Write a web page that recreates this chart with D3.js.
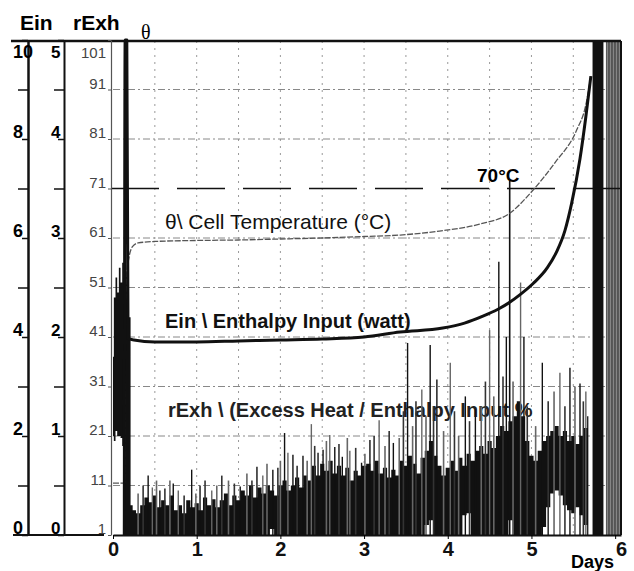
<!DOCTYPE html>
<html>
<head>
<meta charset="utf-8">
<script src="https://cdn.jsdelivr.net/npm/d3@7"></script>
<style>
  body { margin: 0; background: #fff; }
  svg { display: block; font-family: "Liberation Sans", Arial, sans-serif; }
</style>
</head>
<body>
<svg id="chart" width="634" height="571"></svg>
<script>
// ---- values ----
const dayTicks = [0, 1, 2, 3, 4, 5, 6];
const gridDays = [0.5, 1, 1.5, 2, 2.5, 3, 3.5, 4, 4.5, 5, 5.5];
const einTicks = [0, 2, 4, 6, 8, 10];
const einMinor = [1, 3, 5, 7, 9];
const rexhTicks = [0, 1, 2, 3, 4, 5];
const rexhMinor = [0.5, 1.5, 2.5, 3.5, 4.5];
const thetaTicks = [0, 10, 20, 30, 40, 50, 60, 70, 80, 90, 100];
const thetaTickLabels = ["1", "11", "21", "31", "41", "51", "61", "71", "81", "91", "101"];

// Ein, enthalpy input (W)
const einDays = [0.135, 0.145, 0.165, 0.18, 0.25, 0.5, 1.0, 1.5, 2.0, 2.5, 3.0, 3.43, 3.94, 4.2, 4.42, 4.6, 4.74, 4.86, 5.02, 5.19, 5.3, 5.4, 5.48, 5.58, 5.65, 5.71];
const einVals = [0, 10, 10, 3.97, 3.94, 3.9, 3.9, 3.92, 3.94, 3.96, 4.0, 4.1, 4.18, 4.28, 4.42, 4.56, 4.7, 4.85, 5.08, 5.4, 5.72, 6.15, 6.7, 7.6, 8.45, 9.27];

// theta, cell temperature (°C)
const thetaDays = [0.0, 0.14, 0.145, 0.16, 0.19, 0.23, 0.3, 0.5, 1.0, 1.5, 2.0, 2.5, 3.0, 3.43, 3.9, 4.38, 4.74, 5.02, 5.28, 5.54, 5.65, 5.71];
const thetaVals = [10.5, 10.5, 45, 52, 56, 58.2, 59.0, 59.3, 59.5, 59.6, 59.8, 60.0, 60.3, 60.6, 61.4, 62.8, 65, 69.7, 75.2, 81.8, 86.9, 92.7];

// rExh, excess heat / enthalpy input: top and bottom of the dark noisy trace
const rexhDays = [0.0, 0.02, 0.04, 0.06, 0.08, 0.1, 0.12, 0.14, 0.16, 0.18, 0.2, 0.22,
  0.25, 0.3, 0.35, 0.4, 0.45, 0.5, 0.55, 0.6, 0.65, 0.7, 0.75, 0.8, 0.85, 0.9, 0.95,
  1.0, 1.05, 1.1, 1.15, 1.2, 1.25, 1.3, 1.35, 1.4, 1.45, 1.5, 1.55, 1.6, 1.65, 1.7, 1.75, 1.8, 1.85, 1.9, 1.95,
  2.0, 2.05, 2.1, 2.15, 2.2, 2.25, 2.3, 2.35, 2.4, 2.45, 2.5, 2.55, 2.6, 2.65, 2.7, 2.75, 2.8, 2.85, 2.9, 2.95,
  3.0, 3.05, 3.1, 3.15, 3.2, 3.25, 3.3, 3.35, 3.4, 3.45, 3.5, 3.55, 3.6, 3.65, 3.7, 3.75, 3.8, 3.85, 3.9, 3.95,
  4.0, 4.05, 4.1, 4.15, 4.2, 4.25, 4.3, 4.35, 4.4, 4.45, 4.5, 4.55, 4.6, 4.65, 4.7, 4.75, 4.8, 4.85, 4.9, 4.95,
  5.0, 5.05, 5.1, 5.15, 5.2, 5.25, 5.3, 5.35, 5.4, 5.45, 5.5, 5.55, 5.6, 5.65, 5.68];
const rexhHi = [1.8, 2.4, 2.6, 2.45, 2.7, 2.55, 2.75, 2.6, 2.65, 2.4, 2.2, 0.3,
  0.25, 0.22, 0.3, 0.38, 0.33, 0.4, 0.28, 0.35, 0.3, 0.4, 0.25, 0.3, 0.22, 0.35, 0.28,
  0.32, 0.25, 0.38, 0.3, 0.36, 0.28, 0.35, 0.42, 0.3, 0.4, 0.35, 0.45, 0.4, 0.5, 0.38, 0.48, 0.42, 0.5, 0.45, 0.4,
  0.5, 0.55, 0.45, 0.5, 0.58, 0.48, 0.6, 0.55, 0.7, 0.6, 0.72, 0.65, 0.75, 0.62, 0.7, 0.6, 0.68, 0.55, 0.65, 0.6,
  0.7, 0.72, 0.65, 0.75, 0.62, 0.68, 0.58, 0.66, 0.6, 0.75, 0.7, 0.8, 0.72, 0.62, 0.78, 0.85, 0.95, 0.8, 0.7, 0.6,
  0.68, 0.75, 0.65, 0.78, 0.7, 0.82, 0.75, 0.85, 0.9, 0.82, 0.95, 0.88, 1.0, 1.1, 1.05, 1.15, 1.2, 1.35, 1.2, 0.95,
  0.8, 0.75, 0.85, 0.95, 1.0, 1.05, 1.1, 1.0, 1.05, 0.95, 1.0, 0.92, 1.0, 1.08, 1.2];
const rexhLo = [1.0, 0.95, 1.05, 1.0, 1.0, 0.98, 0.9, 0, 0, 0, 0, 0,
  0, 0, 0, 0, 0, 0, 0, 0, 0, 0, 0, 0, 0, 0, 0,
  0, 0, 0, 0, 0, 0, 0, 0, 0, 0, 0, 0, 0, 0, 0, 0, 0, 0, 0.06, 0,
  0, 0, 0, 0, 0, 0, 0, 0, 0, 0, 0, 0, 0, 0, 0, 0, 0, 0, 0, 0,
  0, 0, 0, 0, 0, 0, 0, 0, 0, 0, 0, 0, 0, 0, 0, 0.1, 0.15, 0, 0, 0,
  0, 0, 0, 0, 0.2, 0.22, 0, 0, 0, 0, 0, 0, 0, 0, 0, 0.15, 0, 0, 0, 0,
  0, 0, 0, 0.08, 0.28, 0.42, 0.45, 0.4, 0.3, 0.25, 0.22, 0.28, 0.2, 0.1, 0];

// tall single spikes of rExh
const spikeDays = [0.42, 0.47, 0.56, 0.72, 0.78, 0.94, 1.04, 1.18, 1.52, 1.72, 1.79, 1.91, 2.05, 2.09, 2.15, 2.27, 2.37,
  2.45, 2.51, 2.59, 2.65, 2.74, 2.83, 2.97, 3.07, 3.18, 3.35, 3.52, 3.69, 3.79, 3.87, 4.03, 4.21, 4.33, 4.5, 4.61,
  4.7, 4.87, 4.91, 5.13, 5.34, 5.46, 5.58, 5.65];
const spikeVals = [0.6, 0.48, 0.45, 0.52, 0.45, 0.66, 0.5, 0.45, 0.49, 0.69, 0.6, 0.66, 1.03, 0.83, 0.81, 0.8, 1.12,
  0.83, 0.86, 1.01, 0.89, 0.79, 0.85, 0.73, 0.96, 1.16, 0.93, 1.94, 1.47, 1.92, 1.57, 1.74, 1.4, 1.27, 2.07, 2.76,
  2.0, 2.55, 2.0, 1.74, 1.64, 1.69, 1.53, 1.45];

// shorter spikes that make the texture of the trace
const minorDays = [0.3, 0.36, 0.52, 0.62, 0.68, 0.85, 0.99, 1.1, 1.24, 1.3, 1.38, 1.45, 1.6, 1.66, 1.84, 1.97, 2.0,
  2.2, 2.32, 2.41, 2.55, 2.7, 2.8, 2.9, 3.01, 3.12, 3.25, 3.3, 3.42, 3.47, 3.58, 3.62, 3.74, 3.83, 3.95, 4.08, 4.13,
  4.26, 4.4, 4.45, 4.55, 4.66, 4.78, 4.95, 5.05, 5.2, 5.27, 5.4, 5.52, 5.62];
const minorVals = [0.42, 0.5, 0.55, 0.47, 0.55, 0.4, 0.42, 0.55, 0.5, 0.6, 0.55, 0.52, 0.62, 0.55, 0.72, 0.68, 0.75,
  0.7, 0.75, 0.9, 0.95, 0.92, 0.98, 0.88, 0.82, 1.0, 0.9, 1.05, 0.98, 1.25, 1.1, 1.35, 1.2, 1.3, 1.05, 1.25, 1.0,
  1.15, 1.3, 1.55, 1.4, 1.6, 1.55, 1.3, 1.1, 1.35, 1.45, 1.3, 1.5, 1.35];

// rExh off scale at the end of the run
const saturFrom = [5.73, 5.89];
const saturTo = [5.86, 6.06];

const limitTemp = 70;
const limitDay = 4.74;

// ---- drawing ----
const svg = d3.select("#chart");
const plotTop = 41, plotBottom = 535, plotLeft = 113, plotRight = 621;

const x = d3.scaleLinear().domain([0, 6.07]).range([plotLeft, plotRight]);
const yTheta = d3.scaleLinear().domain([0, 100]).range([plotBottom, 40]);
const yEin = d3.scaleLinear().domain([0, 10]).range([plotBottom, 40]);
const yRexh = d3.scaleLinear().domain([0, 5]).range([plotBottom, 40]);

// grid
svg.append("g")
  .selectAll("line")
  .data(gridDays)
  .join("line")
  .attr("x1", d => x(d)).attr("x2", d => x(d))
  .attr("y1", plotTop).attr("y2", plotBottom)
  .attr("stroke", "#999").attr("stroke-width", 1)
  .attr("stroke-dasharray", "2,5");

svg.append("g")
  .selectAll("line")
  .data(thetaTicks.filter(d => d > 0 && d < 100 && d !== limitTemp))
  .join("line")
  .attr("x1", plotLeft).attr("x2", plotRight)
  .attr("y1", d => yTheta(d)).attr("y2", d => yTheta(d))
  .attr("stroke", "#888").attr("stroke-width", 1)
  .attr("stroke-dasharray", "7,3,2,3");

// series captions
const captions = svg.append("g").attr("fill", "#111");
captions.append("text").attr("x", 165).attr("y", 229)
  .attr("font-size", 21).text("θ\\ Cell Temperature (°C)");
captions.append("text").attr("x", 165).attr("y", 328)
  .attr("font-size", 20).attr("font-weight", "bold").text("Ein \\ Enthalpy Input (watt)");
captions.append("text").attr("x", 168).attr("y", 417)
  .attr("font-size", 20).attr("font-weight", "bold").attr("fill", "#222")
  .text("rExh \\ (Excess Heat / Enthalpy Input %");

// rExh trace
const rexh = rexhDays.map((d, i) => ({ day: d, hi: rexhHi[i], lo: rexhLo[i] }));
svg.append("path")
  .datum(rexh)
  .attr("fill", "#111")
  .attr("d", d3.area()
    .x(d => x(d.day))
    .y0(d => yRexh(d.lo))
    .y1(d => yRexh(d.hi))
    .curve(d3.curveStep));

svg.append("g")
  .selectAll("line")
  .data(minorDays.map((d, i) => [d, minorVals[i]]))
  .join("line")
  .attr("x1", d => x(d[0])).attr("x2", d => x(d[0]))
  .attr("y1", plotBottom).attr("y2", d => yRexh(d[1]))
  .attr("stroke", (d, i) => i % 2 ? "#333" : "#666")
  .attr("stroke-width", 1.6);

svg.append("g")
  .selectAll("line")
  .data(spikeDays.map((d, i) => [d, spikeVals[i]]))
  .join("line")
  .attr("x1", d => x(d[0])).attr("x2", d => x(d[0]))
  .attr("y1", plotBottom).attr("y2", d => yRexh(d[1]))
  .attr("stroke", (d, i) => i % 3 === 1 ? "#666" : "#111")
  .attr("stroke-width", 1.4);

// saturated end of the record
saturFrom.forEach((d, i) => {
  const x0 = x(d), x1 = x(saturTo[i]);
  svg.append("rect")
    .attr("x", x0).attr("y", plotTop)
    .attr("width", x1 - x0).attr("height", plotBottom - plotTop)
    .attr("fill", i === 0 ? "#111" : "#555");
  if (i === 1) {
    svg.append("g")
      .selectAll("line")
      .data(d3.range(x0 + 1.5, x1, 3))
      .join("line")
      .attr("x1", v => v).attr("x2", v => v)
      .attr("y1", plotTop).attr("y2", plotBottom)
      .attr("stroke", "#999").attr("stroke-width", 0.8);
  }
});

// 70 °C line and marker
svg.append("line")
  .attr("x1", 111).attr("x2", plotRight)
  .attr("y1", yTheta(limitTemp)).attr("y2", yTheta(limitTemp))
  .attr("stroke", "#111").attr("stroke-width", 1.5)
  .attr("stroke-dasharray", "48,18");
svg.append("line")
  .attr("x1", x(limitDay)).attr("x2", x(limitDay))
  .attr("y1", yTheta(71.5)).attr("y2", plotBottom)
  .attr("stroke", "#111").attr("stroke-width", 1.6);
svg.append("text")
  .attr("x", 477).attr("y", 182)
  .attr("font-size", 19).attr("font-weight", "bold")
  .text("70°C");

// theta
svg.append("path")
  .datum(thetaDays.map((d, i) => [d, thetaVals[i]]))
  .attr("fill", "none")
  .attr("stroke", "#555").attr("stroke-width", 1.3)
  .attr("stroke-dasharray", "6,1.5")
  .attr("d", d3.line().x(d => x(d[0])).y(d => yTheta(d[1])).curve(d3.curveMonotoneX));

// Ein
svg.append("path")
  .datum(einDays.map((d, i) => [d, einVals[i]]))
  .attr("fill", "none")
  .attr("stroke", "#111").attr("stroke-width", 3)
  .attr("stroke-linejoin", "round")
  .attr("d", d3.line().x(d => x(d[0])).y(d => yEin(d[1])).curve(d3.curveMonotoneX));

// frame
svg.append("line").attr("x1", 11).attr("x2", plotRight).attr("y1", plotTop).attr("y2", plotTop)
  .attr("stroke", "#111").attr("stroke-width", 2.5);
svg.append("line").attr("x1", plotRight).attr("x2", plotRight).attr("y1", plotTop).attr("y2", plotBottom)
  .attr("stroke", "#111").attr("stroke-width", 2);
svg.append("line").attr("x1", 13).attr("x2", 104).attr("y1", plotBottom).attr("y2", plotBottom)
  .attr("stroke", "#111").attr("stroke-width", 2);

// x axis
const xAxis = svg.append("g")
  .attr("transform", `translate(0,${plotBottom})`)
  .call(d3.axisBottom(x).tickValues(dayTicks).tickSize(4).tickSizeOuter(0).tickFormat(d3.format("d")));
xAxis.select(".domain").attr("stroke", "#111").attr("stroke-width", 2);
xAxis.selectAll("text")
  .attr("font-family", "Liberation Sans, Arial, sans-serif")
  .attr("font-size", 20).attr("font-weight", "bold").attr("fill", "#111")
  .attr("x", d => d === 6 ? 6 : 0);
svg.append("text")
  .attr("x", 614).attr("y", 568).attr("text-anchor", "end")
  .attr("font-size", 18).attr("font-weight", "bold")
  .text("Days");

// left axes: Ein, rExh, theta
const leftAxis = (scale, pos, major, minor, width) => {
  const g = svg.append("g").attr("transform", `translate(${pos},0)`);
  g.call(d3.axisLeft(scale).tickValues(minor).tickSize(10).tickSizeOuter(0).tickFormat(""));
  g.select(".domain").attr("stroke", "#111").attr("stroke-width", width);
  g.selectAll(".tick line").attr("stroke", "#111").attr("stroke-width", 1.5);
  const g2 = svg.append("g").attr("transform", `translate(${pos},0)`);
  g2.call(d3.axisLeft(scale).tickValues(major).tickSize(6).tickSizeOuter(0).tickFormat(""));
  g2.select(".domain").remove();
  g2.selectAll(".tick line").attr("stroke", "#111").attr("stroke-width", 1.5);
};
leftAxis(yEin, 28, einTicks, einMinor, 2.5);
leftAxis(yRexh, 64, rexhTicks, rexhMinor, 2);

svg.append("g")
  .selectAll("text")
  .data(einTicks)
  .join("text")
  .attr("x", 13).attr("y", d => Math.max(yEin(d) - 1, 58))
  .attr("font-size", 18).attr("font-weight", "bold")
  .text(d => d);

svg.append("g")
  .selectAll("text")
  .data(rexhTicks)
  .join("text")
  .attr("x", 51).attr("y", d => Math.max(yRexh(d) - 1, 58))
  .attr("font-size", 17).attr("font-weight", "bold")
  .text(d => d);

const thetaAxis = svg.append("g")
  .attr("transform", "translate(111,0)")
  .call(d3.axisLeft(yTheta).tickValues(thetaTicks).tickSize(3).tickSizeOuter(0).tickFormat(""));
thetaAxis.select(".domain").attr("stroke", "#555").attr("stroke-width", 1.2);
thetaAxis.selectAll(".tick line").attr("stroke", "#555");

svg.append("g")
  .selectAll("text")
  .data(thetaTicks)
  .join("text")
  .attr("x", 106).attr("y", d => Math.max(yTheta(d) - 1, 58))
  .attr("text-anchor", "end")
  .attr("font-size", 15).attr("fill", "#444")
  .text((d, i) => thetaTickLabels[i]);

// axis titles
svg.append("text").attr("x", 20).attr("y", 30)
  .attr("font-size", 21).attr("font-weight", "bold").text("Ein");
svg.append("text").attr("x", 73).attr("y", 30)
  .attr("font-size", 21).attr("font-weight", "bold").text("rExh");
svg.append("text").attr("x", 141).attr("y", 39)
  .attr("font-family", "Liberation Serif, serif")
  .attr("font-size", 20).text("θ");
</script>
</body>
</html>
